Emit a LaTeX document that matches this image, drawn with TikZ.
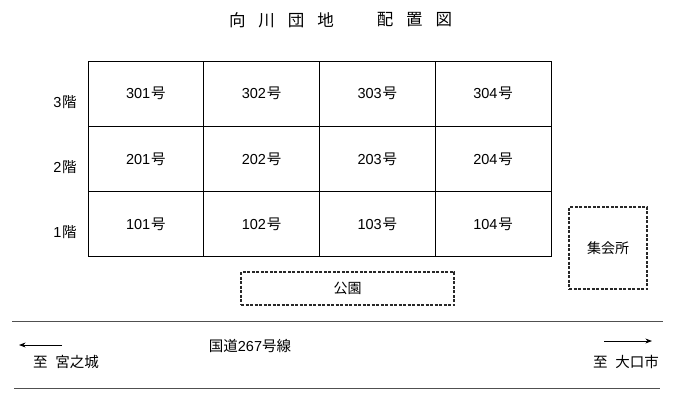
\documentclass[tikz,border=0pt]{standalone}
\usepackage{fontspec}
\setmainfont{Noto Sans CJK JP}
\newfontfamily\numfont{Liberation Sans}
\usetikzlibrary{arrows.meta, positioning}
\definecolor{roadgray}{RGB}{80,80,80}
\definecolor{boxgray}{RGB}{40,40,40}

\begin{document}
\begin{tikzpicture}[x=1pt, y=-1pt, >=Stealth,
    cell/.style={draw, line width=1pt, minimum width=115.75pt, minimum height=65.33pt, inner sep=0pt, font=\fontsize{14.5}{16}\selectfont},
    floor/.style={font=\fontsize{14.5}{16}\selectfont},
    dashbox/.style={draw=boxgray, line width=1.2pt, dash pattern=on 3pt off 1.5pt, inner sep=0pt, font=\fontsize{14}{16}\selectfont},
    road/.style={roadgray, line width=1pt},
    label/.style={font=\fontsize{14.5}{16}\selectfont}]
    \useasboundingbox (0,0) rectangle (680,410);

    % Title
    \node[font=\fontsize{16.5}{18}\selectfont] (title1) at (281.5,20) {向\hspace{13pt}川\hspace{13pt}団\hspace{13pt}地};
    \node[font=\fontsize{16.5}{18}\selectfont] (title2) at (414.5,20) {配\hspace{13pt}置\hspace{13pt}図};

    % Building: rooms
    \foreach \fl/\row in {1/3,2/2,3/1} {
        \foreach \col in {1,...,4} {
            \node[cell] (room\fl\col) at ({88+115.75*(\col-0.5)}, {61+65.33*(\row-0.5)}) {{\numfont\fl0\col}\hspace{1pt}号};
        }
        \node[floor] (floor\fl) at (65, {69+65.33*(\row-0.5)}) {{\numfont\fl}\hspace{0.5pt}階};
    }

    % Park and meeting hall
    \node[dashbox, minimum width=213pt, minimum height=33pt] (park) at (347.5,288.5) {公園};
    \node[dashbox, minimum width=78pt, minimum height=82pt] (hall) at (608,248) {集会所};

    % Road
    \coordinate (roadTL) at (12,321);
    \coordinate (roadTR) at (663,321);
    \coordinate (roadBL) at (14,388);
    \coordinate (roadBR) at (660,388);
    \draw[road] (roadTL) -- (roadTR);
    \draw[road] (roadBL) -- (roadBR);
    \node[label] (route) at (250,346) {国道{\numfont 267}号線};

    % Directions
    \coordinate (westS) at (62,345);
    \coordinate (westE) at (19,345);
    \coordinate (eastS) at (604,341);
    \coordinate (eastE) at (652,341);
    \draw[->, line width=0.8pt] (westS) -- (westE);
    \draw[->, line width=0.8pt] (eastS) -- (eastE);
    \node[label] (west) at (66,362) {至\hspace{8pt}宮之城};
    \node[label] (east) at (626,362) {至\hspace{8pt}大口市};
\end{tikzpicture}
\end{document}
